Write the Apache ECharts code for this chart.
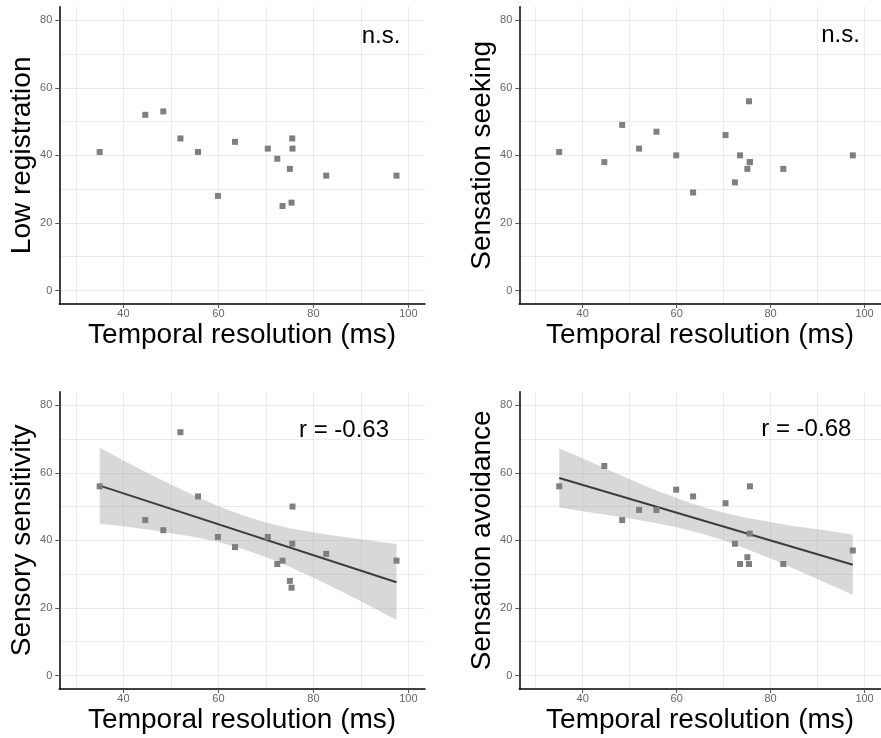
<!DOCTYPE html>
<html>
<head>
<meta charset="utf-8">
<script src="https://cdn.jsdelivr.net/npm/echarts@6/dist/echarts.min.js"></script>
<style>
  html, body { margin: 0; padding: 0; background: #fff; }
  #chart { width: 881px; height: 738px; }
</style>
</head>
<body>
<div id="chart"></div>
<script>
// temporal resolution (ms) of each participant, shared by the 4 panels
const temporalRes = [35.0, 44.6, 48.4, 52.0, 55.7, 59.9, 63.5, 70.4, 72.4, 73.5, 75.05, 75.4, 75.55, 75.6, 82.7, 97.5];

const lowRegistration    = [41, 52, 53, 45, 41, 28, 44, 42, 39, 25, 36, 26, 45, 42, 34, 34];
const sensationSeeking   = [41, 38, 49, 42, 47, 40, 29, 46, 32, 40, 36, 56, 38, 38, 36, 40];
const sensorySensitivity = [56, 46, 43, 72, 53, 41, 38, 41, 33, 34, 28, 26, 39, 50, 36, 34];
const sensationAvoidance = [56, 62, 46, 49, 49, 55, 53, 51, 39, 33, 35, 33, 42, 56, 33, 37];

// fitted line ends and 95% band
const fitX = [35, 97.5];
const sensFit  = [56.2, 27.6];
const avoidFit = [58.45, 32.8];
const bandX = [35, 40, 45, 50, 55, 60, 65, 70, 75, 80, 85, 90, 97.5];
const sensUpper  = [67.4, 63.6, 60.0, 56.5, 53.2, 50.1, 47.5, 45.3, 43.6, 42.3, 41.3, 40.3, 38.9];
const sensLower  = [45.0, 44.2, 43.2, 42.1, 41.0, 39.5, 37.5, 35.1, 32.2, 28.9, 25.5, 22.0, 16.4];
const avoidUpper = [67.2, 64.3, 61.1, 58.1, 55.1, 52.5, 50.1, 48.2, 46.6, 45.4, 44.2, 43.3, 41.7];
const avoidLower = [49.7, 48.6, 47.6, 46.5, 45.3, 43.9, 42.1, 40.0, 37.4, 34.6, 31.6, 28.5, 23.9];

const xTicks = [40, 60, 80, 100];
const xGridLines = [30, 40, 50, 60, 70, 80, 90, 100];
const yTicks = [0, 20, 40, 60, 80];
const yGridLines = [0, 10, 20, 30, 40, 50, 60, 70, 80];

const FONT = '"Liberation Sans", Arial, Helvetica, sans-serif';
const X_MIN = 26.5, X_MAX = 103.5, Y_MIN = -4, Y_MAX = 84;

const panels = [
  { name: 'Low registration', values: lowRegistration, note: 'n.s.', left: 59.3, top: 6.7, noteX: 381, noteY: 36.6 },
  { name: 'Sensation seeking', values: sensationSeeking, note: 'n.s.', left: 519.3, top: 6.7, noteX: 840.5, noteY: 35.6 },
  { name: 'Sensory sensitivity', values: sensorySensitivity, note: 'r = -0.63', left: 59.3, top: 391.7, noteX: 344, noteY: 430.6,
    fit: sensFit, upper: sensUpper, lower: sensLower },
  { name: 'Sensation avoidance', values: sensationAvoidance, note: 'r = -0.68', left: 519.3, top: 391.7, noteX: 806.3, noteY: 429.6,
    fit: avoidFit, upper: avoidUpper, lower: avoidLower }
];

const grid = [], xAxis = [], yAxis = [], series = [], graphic = [];

panels.forEach((p, i) => {
  grid.push({ left: p.left, top: p.top, width: 365.7, height: 297.3 });

  // main axes: line, ticks, labels, title
  xAxis.push({
    gridIndex: i, type: 'value', min: X_MIN, max: X_MAX,
    axisLine: { show: true, onZero: false, lineStyle: { color: '#000', width: 1.5 } },
    axisTick: { show: true, length: 4, customValues: xTicks, lineStyle: { color: '#555' } },
    axisLabel: { customValues: xTicks, color: '#666', fontSize: 11, margin: 4, fontFamily: FONT },
    splitLine: { show: false },
    name: 'Temporal resolution (ms)', nameLocation: 'middle', nameGap: 17,
    nameTextStyle: { fontSize: 28, color: '#000', fontFamily: FONT }
  });
  // helper axes that only draw the light grid
  xAxis.push({
    gridIndex: i, type: 'value', min: X_MIN, max: X_MAX,
    axisLine: { show: false }, axisLabel: { show: false },
    axisTick: { show: false, customValues: xGridLines },
    splitLine: { show: true, lineStyle: { color: '#ebebeb', width: 1 } }
  });
  yAxis.push({
    gridIndex: i, type: 'value', min: Y_MIN, max: Y_MAX, position: 'left',
    axisLine: { show: true, onZero: false, lineStyle: { color: '#000', width: 1.5 } },
    axisTick: { show: true, length: 4, customValues: yTicks, lineStyle: { color: '#555' } },
    axisLabel: { customValues: yTicks, color: '#666', fontSize: 11, margin: 7, fontFamily: FONT },
    splitLine: { show: false },
    name: p.name, nameLocation: 'middle', nameGap: 22,
    nameTextStyle: { fontSize: 28, color: '#000', fontFamily: FONT }
  });
  yAxis.push({
    gridIndex: i, type: 'value', min: Y_MIN, max: Y_MAX, position: 'left',
    axisLine: { show: false }, axisLabel: { show: false },
    axisTick: { show: false, customValues: yGridLines },
    splitLine: { show: true, lineStyle: { color: '#ebebeb', width: 1 } }
  });

  const ax = i * 2;

  if (p.fit) {
    const upper = p.upper, lower = p.lower;
    series.push({
      type: 'custom', xAxisIndex: ax, yAxisIndex: ax, silent: true, z: 1,
      data: [[bandX[0], lower[0]]],
      renderItem: function (params, api) {
        const pts = [];
        bandX.forEach((x, k) => pts.push(api.coord([x, upper[k]])));
        for (let k = bandX.length - 1; k >= 0; k--) pts.push(api.coord([bandX[k], lower[k]]));
        return { type: 'polygon', shape: { points: pts }, style: { fill: 'rgba(153,153,153,0.38)' } };
      }
    });
    series.push({
      type: 'line', xAxisIndex: ax, yAxisIndex: ax, silent: true, z: 3,
      data: fitX.map((x, k) => [x, p.fit[k]]),
      symbol: 'none', lineStyle: { color: '#3d3d3d', width: 2 }
    });
  }

  series.push({
    type: 'scatter', xAxisIndex: ax, yAxisIndex: ax, z: 4,
    data: temporalRes.map((x, k) => [x, p.values[k]]),
    symbol: 'rect', symbolSize: 6,
    itemStyle: { color: '#7f7f7f', opacity: 1 }
  });

  graphic.push({
    type: 'text', x: p.noteX, y: p.noteY, silent: true,
    style: { text: p.note, fontSize: 24, fontFamily: FONT, fill: '#000', align: 'center', verticalAlign: 'middle' }
  });
});

const chart = echarts.init(document.getElementById('chart'), null, { renderer: 'canvas' });
chart.setOption({
  animation: false,
  backgroundColor: '#fff',
  grid, xAxis, yAxis, series, graphic
});
</script>
</body>
</html>
